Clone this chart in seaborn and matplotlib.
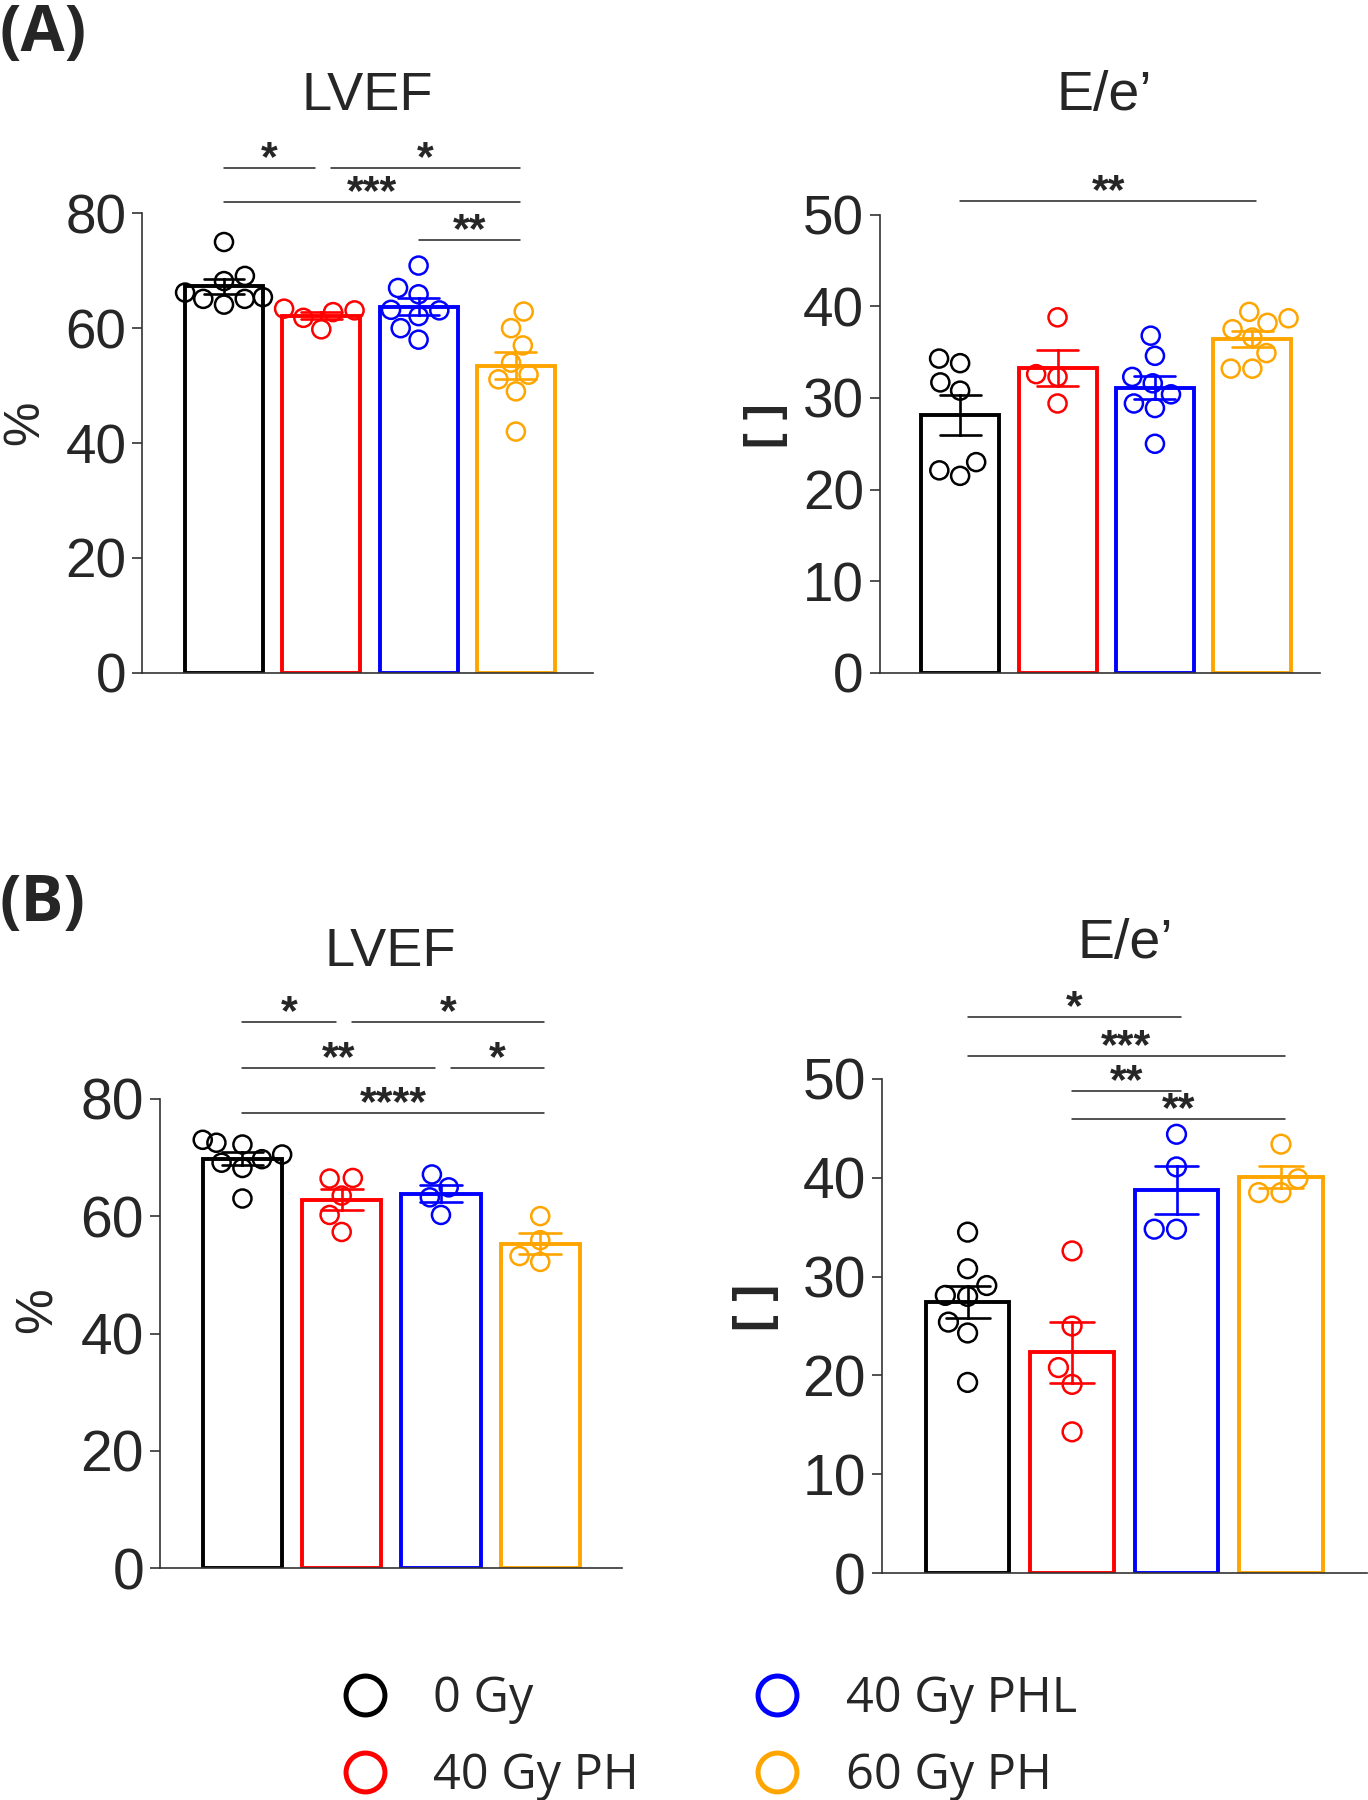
import matplotlib
matplotlib.use("Agg")
import matplotlib.pyplot as plt
from matplotlib.lines import Line2D
import seaborn as sns
import pandas as pd

# groups and colours
groups = ["0 Gy", "40 Gy PH", "40 Gy PHL", "60 Gy PH"]
group_colors = ["#000000", "#FF0000", "#0000FF", "#FFA500"]

# (A) LVEF, %
a_lvef = [
    [75.0, 69.1, 68.2, 66.2, 65.4, 65.1, 65.1, 64.1],
    [63.4, 63.1, 62.8, 61.8, 59.8],
    [70.9, 67.0, 65.9, 63.2, 63.1, 62.1, 60.0, 58.0],
    [62.9, 60.0, 57.0, 54.0, 51.9, 51.1, 49.0, 42.0],
]
# (A) E/e'
a_ee = [
    [34.3, 33.8, 31.7, 30.8, 23.0, 22.1, 21.5],
    [38.8, 32.6, 32.3, 29.4],
    [36.8, 34.6, 32.3, 31.6, 30.4, 29.4, 28.9, 25.0],
    [39.4, 38.7, 38.2, 37.5, 36.6, 34.9, 33.2, 33.2],
]
# (B) LVEF, %
b_lvef = [
    [73.0, 72.5, 72.2, 70.5, 69.7, 69.1, 68.2, 63.0],
    [66.5, 66.4, 63.5, 60.2, 57.3],
    [67.1, 64.9, 63.2, 60.2],
    [60.0, 55.9, 53.2, 52.2],
]
# (B) E/e'
b_ee = [
    [34.5, 30.8, 29.1, 28.1, 28.0, 25.4, 24.3, 19.3],
    [32.6, 25.0, 20.8, 19.1, 14.3],
    [44.4, 41.1, 34.8, 34.8],
    [43.4, 39.9, 38.5, 38.5],
]

# significance brackets: (group i, group j, stars, height in data units)
a_lvef_sig = [(0, 1, "*", 87.8), (1, 3, "*", 87.8), (0, 3, "***", 82.0), (2, 3, "**", 75.4)]
a_ee_sig = [(0, 3, "**", 51.5)]
b_lvef_sig = [(0, 1, "*", 93.1), (1, 3, "*", 93.1), (0, 2, "**", 85.2),
              (2, 3, "*", 85.2), (0, 3, "****", 77.6)]
b_ee_sig = [(0, 2, "*", 56.3), (0, 3, "***", 52.3), (1, 2, "**", 48.8), (1, 3, "**", 45.9)]

sns.set_style("ticks")
plt.rcParams["font.family"] = ["Liberation Sans", "DejaVu Sans"]

fig = plt.figure(figsize=(13.68, 18), dpi=100)


def draw_panel(rect, values, sig, ymax, ystep, xlim, tick_size, mark_size):
    ax = fig.add_axes(rect)
    df = pd.DataFrame({
        "group": [g for g, v in zip(groups, values) for _ in v],
        "value": [x for v in values for x in v],
    })
    sns.barplot(data=df, x="group", y="value", hue="group", order=groups,
                hue_order=groups, palette=group_colors, fill=False, dodge=False,
                errorbar="se", capsize=0.42, width=0.8, linewidth=2.8,
                err_kws={"linewidth": 1.9}, legend=False, ax=ax)
    sns.swarmplot(data=df, x="group", y="value", hue="group", order=groups,
                  hue_order=groups, palette=group_colors, size=mark_size,
                  linewidth=1.8, legend=False, warn_thresh=1, ax=ax, zorder=3)
    # hollow markers
    for coll in ax.collections:
        coll.set_edgecolors(coll.get_facecolors())
        coll.set_facecolors("none")

    ax.set_xlim(*xlim)
    ax.set_ylim(0, ymax)
    ax.set_yticks(range(0, ymax + 1, ystep))
    ax.set_xticks([])
    ax.set_xlabel("")
    ax.set_ylabel("")
    sns.despine(ax=ax)
    for s in ["left", "bottom"]:
        ax.spines[s].set_color("#333333")
        ax.spines[s].set_linewidth(1.2)
    ax.tick_params(axis="y", labelsize=tick_size, length=7.5, width=1.2,
                   color="#333333", pad=4)

    # significance lines
    for i, j, stars, h in sig:
        x0 = i + (0.1 if any(s[1] == i and s[3] == h for s in sig) else 0.0)
        x1 = j + 0.04 - (0.1 if any(s[0] == j and s[3] == h for s in sig) else 0.0)
        ax.plot([x0, x1], [h, h], color="#222222", lw=1.1, clip_on=False)
        ax.annotate(stars, xy=((x0 + x1) / 2, h), xytext=(0, -1.5),
                    textcoords="offset points", ha="center", va="baseline",
                    fontsize=31, fontweight="bold", annotation_clip=False)
    return ax


draw_panel([0.1040, 0.6262, 0.3293, 0.2553], a_lvef, a_lvef_sig, 80, 20,
           (-0.84, 3.79), 39.5, 13)
draw_panel([0.6431, 0.6262, 0.3215, 0.2545], a_ee, a_ee_sig, 50, 10,
           (-0.825, 3.69), 39.5, 13)
draw_panel([0.1170, 0.1287, 0.3374, 0.2609], b_lvef, b_lvef_sig, 80, 20,
           (-0.83, 3.82), 41, 13)
draw_panel([0.6447, 0.1260, 0.3543, 0.2746], b_ee, b_ee_sig, 50, 10,
           (-0.82, 3.82), 41, 13.5)

# titles
fig.text(367 / 1368, 1 - 110 / 1800, "LVEF", ha="center", va="baseline", fontsize=39)
fig.text(1104 / 1368, 1 - 110 / 1800, "E/e\u2019", ha="center", va="baseline", fontsize=40)
fig.text(390 / 1368, 1 - 966 / 1800, "LVEF", ha="center", va="baseline", fontsize=39)
fig.text(1125 / 1368, 1 - 958 / 1800, "E/e\u2019", ha="center", va="baseline", fontsize=40)

# y labels
fig.text(25 / 1368, 1 - 423 / 1800, "%", rotation=90, ha="center", va="center", fontsize=36)
fig.text(766 / 1368, 1 - 426 / 1800, "[ ]", rotation=90, ha="center", va="center",
         fontsize=34, fontweight="bold")
fig.text(38 / 1368, 1 - 1310 / 1800, "%", rotation=90, ha="center", va="center", fontsize=37)
fig.text(756 / 1368, 1 - 1307 / 1800, "[ ]", rotation=90, ha="center", va="center",
         fontsize=36, fontweight="bold")

# panel letters
fig.text(0.0, 0.999, "(A)", ha="left", va="top", fontsize=46, fontweight="bold",
         family=["Open Sans", "DejaVu Sans"])
fig.text(0.0, 1 - 872 / 1800, "(B)", ha="left", va="top", fontsize=46, fontweight="bold",
         family=["Open Sans", "DejaVu Sans"])

# legend
handles = [Line2D([], [], marker="o", linestyle="none", markersize=28,
                  markerfacecolor="none", markeredgecolor=c, markeredgewidth=3.6)
           for c in group_colors]
fig.legend(handles=handles, labels=groups, ncol=2, loc="upper left",
           bbox_to_anchor=(0.231, 0.0695), frameon=False,
           prop={"family": "Open Sans", "size": 35}, handlelength=2,
           handletextpad=0.4, columnspacing=1.86, labelspacing=0.55,
           borderpad=0, borderaxespad=0)

fig.savefig("out.png", dpi=100)
